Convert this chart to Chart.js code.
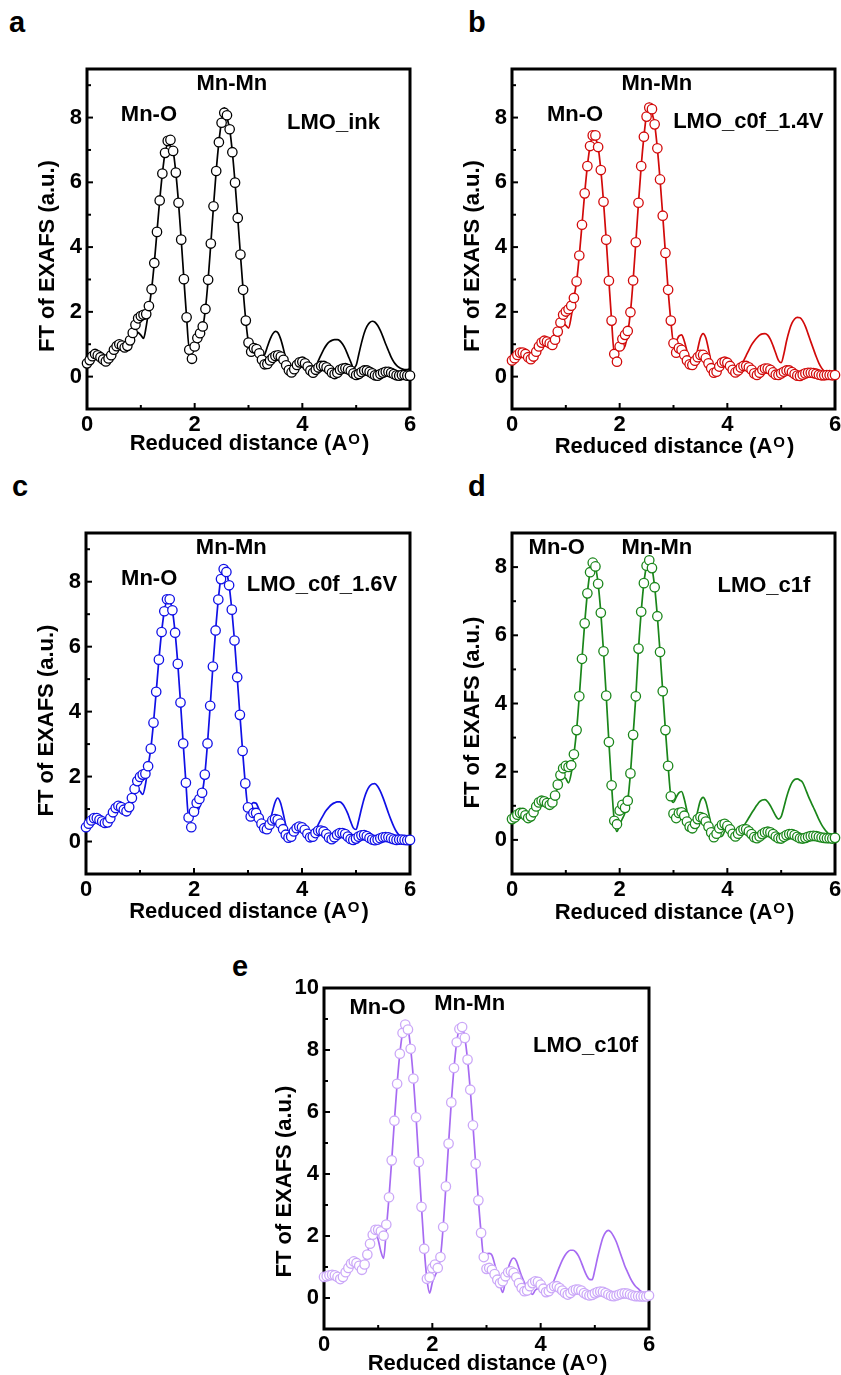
<!DOCTYPE html>
<html>
<head>
<meta charset="utf-8">
<title>FT of EXAFS panels</title>
<script src="https://cdn.jsdelivr.net/npm/chart.js@4.4.1/dist/chart.umd.min.js"></script>
<style>
  html, body { margin: 0; padding: 0; background: #fff; }
  body { position: relative; width: 841px; height: 1375px; overflow: hidden;
         font-family: "Liberation Sans", Arial, sans-serif; }
  canvas { position: absolute; }
  .tag { position: absolute; font-weight: bold; font-size: 29px; line-height: 29px; color: #000; }
</style>
</head>
<body>
<div class="tag" style="left:9px;top:8px">a</div>
<div class="tag" style="left:468px;top:8px">b</div>
<div class="tag" style="left:12px;top:472px">c</div>
<div class="tag" style="left:468px;top:472px">d</div>
<div class="tag" style="left:232px;top:952px">e</div>

<script>
// reduced distance grid (Å)
const R = [0, 0.05, 0.1, 0.15, 0.2, 0.25, 0.3, 0.35, 0.4, 0.45,
  0.5, 0.55, 0.6, 0.65, 0.7, 0.75, 0.8, 0.85, 0.9, 0.95,
  1, 1.05, 1.1, 1.15, 1.2, 1.25, 1.3, 1.35, 1.4, 1.45,
  1.5, 1.55, 1.6, 1.65, 1.7, 1.75, 1.8, 1.85, 1.9, 1.95,
  2, 2.05, 2.1, 2.15, 2.2, 2.25, 2.3, 2.35, 2.4, 2.45,
  2.5, 2.55, 2.6, 2.65, 2.7, 2.75, 2.8, 2.85, 2.9, 2.95,
  3, 3.05, 3.1, 3.15, 3.2, 3.25, 3.3, 3.35, 3.4, 3.45,
  3.5, 3.55, 3.6, 3.65, 3.7, 3.75, 3.8, 3.85, 3.9, 3.95,
  4, 4.05, 4.1, 4.15, 4.2, 4.25, 4.3, 4.35, 4.4, 4.45,
  4.5, 4.55, 4.6, 4.65, 4.7, 4.75, 4.8, 4.85, 4.9, 4.95,
  5, 5.05, 5.1, 5.15, 5.2, 5.25, 5.3, 5.35, 5.4, 5.45,
  5.5, 5.55, 5.6, 5.65, 5.7, 5.75, 5.8, 5.85, 5.9, 5.95,
  6];

const _ = null;

// a: LMO_ink
const ptsA = [0.41, 0.51, 0.63, 0.70, 0.66, 0.60, 0.53, 0.47, 0.56, 0.66,
  0.83, 0.94, 1.00, 0.96, 0.90, 0.95, 1.12, 1.35, 1.60, 1.80,
  1.87, 1.91, 1.93, 2.18, 2.70, 3.51, 4.47, 5.44, 6.27, 6.91,
  7.28, 7.31, 6.97, 6.30, 5.37, 4.23, 3.01, 1.83, 0.83, 0.55,
  0.93, 1.19, 1.34, 1.55, 2.09, 2.99, 4.11, 5.26, 6.35, 7.24,
  7.84, 8.15, 8.07, 7.64, 6.93, 5.99, 4.90, 3.77, 2.68, 1.73,
  1.05, 0.77, 0.88, 0.85, 0.72, 0.52, 0.38, 0.39, 0.50, 0.58,
  0.64, 0.66, 0.62, 0.52, 0.35, 0.20, 0.13, 0.23, 0.36, 0.44,
  0.46, 0.41, 0.31, 0.19, 0.12, 0.21, 0.28, 0.33, 0.33, 0.29,
  0.21, 0.12, 0.08, 0.12, 0.21, 0.25, 0.26, 0.23, 0.18, 0.10,
  0.05, 0.08, 0.14, 0.19, 0.19, 0.15, 0.10, 0.04, 0.03, 0.08,
  0.12, 0.15, 0.15, 0.12, 0.08, 0.04, 0.03, 0.05, 0.05, 0.03,
  0.03];
const fitA = [_, _, _, _, _, _, _, _, _, _,
  _, _, 1.00, 0.98, 0.96, 1.00, 1.12, 1.27, 1.38, 1.36,
  1.28, 1.18, 1.55, 2.10, 2.70, 3.51, 4.47, 5.44, 6.27, 6.91,
  7.15, 7.12, 6.97, 6.30, 5.37, 4.23, 3.01, 1.83, 0.86, 0.90,
  0.98, 1.08, 1.18, 1.50, 2.09, 2.99, 4.11, 5.26, 6.35, 7.24,
  7.90, 8.30, 8.00, 7.64, 6.93, 5.99, 4.90, 3.77, 2.68, 1.73,
  1.08, 1.00, 0.95, 0.88, 0.75, 0.62, 0.68, 0.92, 1.15, 1.32,
  1.40, 1.35, 1.15, 0.85, 0.50, 0.22, 0.15, 0.22, 0.30, 0.32,
  0.30, 0.25, 0.20, 0.18, 0.22, 0.32, 0.50, 0.68, 0.85, 0.98,
  1.07, 1.12, 1.14, 1.14, 1.10, 1.00, 0.85, 0.65, 0.45, 0.27,
  0.35, 0.70, 1.05, 1.35, 1.55, 1.67, 1.71, 1.68, 1.58, 1.42,
  1.22, 1.00, 0.80, 0.60, 0.45, 0.35, 0.28, 0.24, 0.22, 0.22,
  0.25];

// b: LMO_c0f_1.4V
const ptsB = [0.50, 0.57, 0.67, 0.74, 0.74, 0.70, 0.60, 0.54, 0.62, 0.77,
  0.93, 1.05, 1.11, 1.08, 1.03, 0.98, 1.14, 1.39, 1.67, 1.91,
  2.01, 2.08, 2.19, 2.43, 2.94, 3.74, 4.69, 5.66, 6.50, 7.12,
  7.45, 7.45, 7.09, 6.38, 5.40, 4.23, 2.96, 1.73, 0.70, 0.46,
  0.93, 1.16, 1.29, 1.41, 1.99, 2.97, 4.15, 5.37, 6.50, 7.41,
  8.03, 8.31, 8.26, 7.79, 7.05, 6.09, 4.97, 3.82, 2.68, 1.73,
  1.03, 0.74, 0.88, 0.83, 0.67, 0.50, 0.38, 0.36, 0.49, 0.60,
  0.67, 0.67, 0.57, 0.41, 0.26, 0.12, 0.15, 0.31, 0.43, 0.46,
  0.43, 0.33, 0.21, 0.13, 0.19, 0.28, 0.33, 0.33, 0.29, 0.21,
  0.10, 0.05, 0.12, 0.21, 0.25, 0.25, 0.21, 0.13, 0.06, 0.05,
  0.10, 0.15, 0.19, 0.19, 0.14, 0.08, 0.03, 0.02, 0.06, 0.10,
  0.12, 0.12, 0.11, 0.09, 0.06, 0.04, 0.04, 0.05, 0.05, 0.04,
  0.05];
const fitB = [_, _, _, _, _, _, _, _, _, _,
  _, _, 1.11, 1.10, 1.10, 1.15, 1.25, 1.42, 1.58, 1.65,
  1.58, 1.50, 1.85, 2.43, 2.94, 3.74, 4.69, 5.66, 6.50, 7.12,
  7.40, 7.35, 7.09, 6.38, 5.40, 4.23, 2.96, 1.73, 0.72, 0.75,
  0.82, 0.85, 0.95, 1.35, 1.99, 2.97, 4.15, 5.37, 6.50, 7.41,
  8.10, 8.45, 8.15, 7.79, 7.05, 6.09, 4.97, 3.82, 2.68, 1.73,
  1.05, 1.10, 1.25, 1.29, 1.10, 0.80, 0.55, 0.42, 0.50, 0.85,
  1.20, 1.33, 1.20, 0.85, 0.45, 0.20, 0.15, 0.25, 0.35, 0.38,
  0.35, 0.28, 0.20, 0.15, 0.20, 0.32, 0.48, 0.65, 0.82, 0.98,
  1.10, 1.20, 1.28, 1.32, 1.33, 1.28, 1.15, 0.95, 0.72, 0.50,
  0.43, 0.70, 1.10, 1.42, 1.65, 1.78, 1.83, 1.82, 1.72, 1.55,
  1.32, 1.08, 0.85, 0.62, 0.42, 0.27, 0.17, 0.12, 0.10, 0.09,
  0.08];

// c: LMO_c0f_1.6V
const ptsC = [0.44, 0.55, 0.65, 0.72, 0.72, 0.67, 0.62, 0.57, 0.59, 0.72,
  0.90, 1.03, 1.10, 1.06, 0.98, 0.93, 1.06, 1.34, 1.62, 1.86,
  1.99, 2.06, 2.09, 2.32, 2.86, 3.66, 4.61, 5.60, 6.45, 7.09,
  7.46, 7.46, 7.12, 6.43, 5.47, 4.28, 3.02, 1.81, 0.74, 0.44,
  0.92, 1.19, 1.31, 1.50, 2.06, 3.02, 4.18, 5.39, 6.50, 7.45,
  8.08, 8.39, 8.30, 7.89, 7.14, 6.19, 5.06, 3.90, 2.79, 1.79,
  1.05, 0.77, 0.88, 0.88, 0.72, 0.55, 0.41, 0.38, 0.52, 0.65,
  0.69, 0.67, 0.55, 0.38, 0.21, 0.12, 0.15, 0.31, 0.41, 0.46,
  0.44, 0.36, 0.24, 0.13, 0.15, 0.26, 0.33, 0.34, 0.31, 0.23,
  0.12, 0.07, 0.13, 0.21, 0.26, 0.26, 0.23, 0.15, 0.08, 0.05,
  0.09, 0.15, 0.19, 0.20, 0.17, 0.11, 0.06, 0.04, 0.06, 0.10,
  0.13, 0.14, 0.13, 0.10, 0.07, 0.05, 0.06, 0.06, 0.05, 0.04,
  0.05];
const fitC = [_, _, _, _, _, _, _, _, _, _,
  _, _, 1.10, 1.08, 1.05, 1.10, 1.20, 1.35, 1.50, 1.60,
  1.55, 1.45, 1.75, 2.32, 2.86, 3.66, 4.61, 5.60, 6.45, 7.09,
  7.40, 7.38, 7.12, 6.43, 5.47, 4.28, 3.02, 1.81, 0.75, 0.72,
  0.80, 0.90, 1.05, 1.45, 2.06, 3.02, 4.18, 5.39, 6.50, 7.45,
  8.15, 8.45, 8.30, 7.89, 7.14, 6.19, 5.06, 3.90, 2.79, 1.79,
  1.08, 1.12, 1.20, 1.18, 1.00, 0.75, 0.52, 0.42, 0.55, 0.90,
  1.20, 1.34, 1.20, 0.88, 0.50, 0.20, 0.10, 0.20, 0.30, 0.36,
  0.35, 0.28, 0.20, 0.15, 0.22, 0.35, 0.52, 0.68, 0.83, 0.96,
  1.06, 1.14, 1.19, 1.22, 1.22, 1.16, 1.03, 0.85, 0.62, 0.42,
  0.37, 0.65, 1.00, 1.32, 1.55, 1.70, 1.77, 1.78, 1.70, 1.55,
  1.35, 1.12, 0.88, 0.66, 0.46, 0.30, 0.19, 0.12, 0.08, 0.06,
  0.05];

// d: LMO_c1f
const ptsD = [0.61, 0.66, 0.74, 0.79, 0.79, 0.72, 0.64, 0.69, 0.81, 0.98,
  1.10, 1.15, 1.13, 1.08, 1.03, 1.10, 1.30, 1.62, 1.90, 2.10,
  2.17, 2.14, 2.19, 2.51, 3.22, 4.21, 5.31, 6.35, 7.23, 7.85,
  8.13, 8.02, 7.51, 6.66, 5.53, 4.23, 2.87, 1.60, 0.56, 0.46,
  0.86, 1.03, 0.94, 1.15, 1.95, 3.08, 4.21, 5.61, 6.69, 7.53,
  8.04, 8.20, 7.97, 7.41, 6.56, 5.51, 4.36, 3.22, 2.17, 1.28,
  0.77, 0.64, 0.79, 0.81, 0.71, 0.54, 0.39, 0.34, 0.47, 0.61,
  0.67, 0.64, 0.54, 0.39, 0.22, 0.08, 0.18, 0.34, 0.44, 0.47,
  0.41, 0.31, 0.18, 0.10, 0.18, 0.27, 0.31, 0.31, 0.25, 0.17,
  0.08, 0.05, 0.10, 0.17, 0.22, 0.24, 0.22, 0.17, 0.10, 0.05,
  0.04, 0.09, 0.14, 0.17, 0.17, 0.14, 0.09, 0.05, 0.04, 0.06,
  0.09, 0.11, 0.12, 0.11, 0.09, 0.07, 0.06, 0.05, 0.05, 0.04,
  0.06];
const fitD = [_, _, _, _, _, _, _, _, _, _,
  _, _, 1.13, 1.10, 1.10, 1.15, 1.30, 1.55, 1.75, 1.85,
  1.80, 1.67, 1.95, 2.51, 3.22, 4.21, 5.31, 6.35, 7.23, 7.85,
  8.10, 8.00, 7.51, 6.66, 5.53, 4.23, 2.87, 1.60, 0.56, 0.25,
  0.45, 0.62, 0.80, 1.15, 1.95, 3.08, 4.21, 5.61, 6.69, 7.53,
  8.04, 8.20, 7.97, 7.41, 6.56, 5.51, 4.36, 3.22, 2.17, 1.28,
  1.10, 1.25, 1.38, 1.42, 1.20, 0.85, 0.52, 0.35, 0.50, 0.85,
  1.15, 1.25, 1.12, 0.80, 0.45, 0.20, 0.12, 0.10, 0.10, 0.25,
  0.32, 0.28, 0.20, 0.18, 0.22, 0.30, 0.40, 0.52, 0.65, 0.78,
  0.90, 1.02, 1.12, 1.17, 1.18, 1.12, 1.00, 0.85, 0.70, 0.61,
  0.68, 0.95, 1.25, 1.50, 1.68, 1.77, 1.79, 1.75, 1.68, 1.50,
  1.30, 1.12, 0.95, 0.78, 0.60, 0.45, 0.33, 0.23, 0.16, 0.11,
  0.07];

// e: LMO_c10f
const ptsE = [0.68, 0.70, 0.73, 0.75, 0.73, 0.68, 0.61, 0.68, 0.83, 0.97,
  1.11, 1.18, 1.13, 1.04, 0.91, 1.08, 1.40, 1.75, 2.04, 2.20,
  2.20, 2.15, 2.01, 2.37, 3.25, 4.44, 5.72, 6.91, 7.88, 8.55,
  8.82, 8.66, 8.04, 7.08, 5.83, 4.39, 2.94, 1.59, 0.62, 0.67,
  0.97, 1.08, 0.97, 1.32, 2.29, 3.60, 4.98, 6.31, 7.42, 8.25,
  8.68, 8.74, 8.39, 7.69, 6.72, 5.57, 4.33, 3.15, 2.10, 1.32,
  0.94, 0.97, 0.91, 0.77, 0.59, 0.48, 0.54, 0.70, 0.83, 0.86,
  0.81, 0.67, 0.48, 0.32, 0.22, 0.24, 0.38, 0.48, 0.54, 0.52,
  0.43, 0.30, 0.19, 0.22, 0.32, 0.38, 0.38, 0.32, 0.24, 0.16,
  0.11, 0.16, 0.24, 0.27, 0.27, 0.24, 0.16, 0.11, 0.08, 0.10,
  0.15, 0.19, 0.21, 0.20, 0.16, 0.11, 0.07, 0.06, 0.08, 0.11,
  0.14, 0.15, 0.14, 0.11, 0.08, 0.06, 0.06, 0.05, 0.05, 0.05,
  0.08];
const fitE = [_, _, _, _, _, _, _, _, _, _,
  _, _, 1.13, 1.05, 1.00, 1.15, 1.45, 1.80, 2.02, 2.10,
  1.88, 1.50, 1.28, 2.20, 3.25, 4.44, 5.72, 6.91, 7.88, 8.55,
  8.80, 8.70, 8.04, 7.08, 5.83, 4.39, 2.94, 1.59, 0.62, 0.16,
  0.50, 0.72, 0.92, 1.32, 2.29, 3.60, 4.98, 6.31, 7.42, 8.25,
  8.70, 8.78, 8.39, 7.69, 6.72, 5.57, 4.33, 3.15, 2.10, 1.32,
  1.42, 1.44, 1.38, 1.10, 0.75, 0.42, 0.18, 0.55, 0.95, 1.20,
  1.29, 1.20, 0.95, 0.70, 0.50, 0.30, 0.18, 0.12, 0.25, 0.30,
  0.28, 0.22, 0.20, 0.25, 0.38, 0.58, 0.80, 1.02, 1.22, 1.38,
  1.49, 1.54, 1.54, 1.48, 1.35, 1.15, 0.92, 0.72, 0.60, 0.59,
  0.90, 1.30, 1.65, 1.95, 2.12, 2.18, 2.12, 1.98, 1.80, 1.55,
  1.30, 1.05, 0.85, 0.66, 0.50, 0.38, 0.30, 0.22, 0.15, 0.10,
  0.08];

// axis ticks
const xTicks = [0, 2, 4, 6];
const xMinor = [1, 3, 5];
const yTicks8 = [0, 2, 4, 6, 8];
const yTicks10 = [0, 2, 4, 6, 8, 10];
const yMinor9 = [1, 3, 5, 7, 9];
const yMinor7 = [1, 3, 5, 7];

// peak labels: text, R, FT
const notesA = [['Mn-Mn', 2.69, 9.03], ['Mn-O', 1.15, 8.07], ['LMO_ink', 4.58, 7.82]];
const notesB = [['Mn-Mn', 2.69, 9.03], ['Mn-O', 1.17, 8.08], ['LMO_c0f_1.4V', 4.39, 7.86]];
const notesC = [['Mn-Mn', 2.69, 9.03], ['Mn-O', 1.17, 8.10], ['LMO_c0f_1.6V', 4.37, 7.89]];
const notesD = [['Mn-O', 0.83, 8.55], ['Mn-Mn', 2.69, 8.55], ['LMO_c1f', 4.68, 7.45]];
const notesE = [['Mn-O', 0.99, 9.35], ['Mn-Mn', 2.69, 9.48], ['LMO_c10f', 4.83, 8.14]];

const FONT = '"Liberation Sans", Arial, sans-serif';
Chart.defaults.font.family = FONT;

// margins of each canvas around its plot box
const ML = 86, MT = 60, MR = 12, MB = 62;

const panels = [
  { box: [87, 69, 323, 340], yMax: 9.5, yTicks: yTicks8, yMinor: yMinor9, pts: ptsA, fit: fitA,
    line: '#000000', mark: '#000000', notes: notesA, yTitleDy: 17, xTitleDy: 41 },
  { box: [512, 69, 323, 340], yMax: 9.5, yTicks: yTicks8, yMinor: yMinor9, pts: ptsB, fit: fitB,
    line: '#d20a0a', mark: '#d20a0a', notes: notesB, yTitleDy: 17, xTitleDy: 44 },
  { box: [86, 533, 324, 341], yMax: 9.5, yTicks: yTicks8, yMinor: yMinor9, pts: ptsC, fit: fitC,
    line: '#1010e6', mark: '#1010e6', notes: notesC, yTitleDy: 17, xTitleDy: 44 },
  { box: [512, 533, 323, 341], yMax: 9, yTicks: yTicks8, yMinor: yMinor7, pts: ptsD, fit: fitD,
    line: '#1a861a', mark: '#1a861a', notes: notesD, yTitleDy: 9, xTitleDy: 45 },
  { box: [324, 988, 325, 341], yMax: 10, yTicks: yTicks10, yMinor: yMinor9, pts: ptsE, fit: fitE,
    line: '#a76bf2', mark: '#cba8f8', notes: notesE, yTitleDy: 23, xTitleDy: 41 }
];

function decor(p) {
  return {
    id: 'decor',
    beforeDatasetsDraw(chart) {
      const { ctx, chartArea: a, scales: { x, y } } = chart;
      ctx.save();
      ctx.strokeStyle = '#000';
      ctx.lineWidth = 2;
      const mark = (x0, y0, x1, y1) => {
        ctx.beginPath(); ctx.moveTo(x0, y0); ctx.lineTo(x1, y1); ctx.stroke();
      };
      xTicks.forEach(v => { const px = x.getPixelForValue(v); mark(px, a.bottom, px, a.bottom - 6); });
      xMinor.forEach(v => { const px = x.getPixelForValue(v); mark(px, a.bottom, px, a.bottom - 4); });
      p.yTicks.forEach(v => { const py = y.getPixelForValue(v); mark(a.left, py, a.left + 6, py); });
      p.yMinor.forEach(v => { const py = y.getPixelForValue(v); mark(a.left, py, a.left + 4, py); });
      ctx.lineWidth = 3;
      ctx.strokeRect(a.left, a.top, a.right - a.left, a.bottom - a.top);
      ctx.restore();
    },
    afterDraw(chart) {
      const { ctx, chartArea: a, scales: { x, y } } = chart;
      ctx.save();
      ctx.fillStyle = '#000';

      // peak / sample labels
      ctx.font = `bold 22px ${FONT}`;
      ctx.textAlign = 'center';
      ctx.textBaseline = 'middle';
      p.notes.forEach(([t, nx, ny]) => ctx.fillText(t, x.getPixelForValue(nx), y.getPixelForValue(ny)));

      // y title
      ctx.save();
      ctx.translate(a.left - 39, (a.top + a.bottom) / 2 + p.yTitleDy);
      ctx.rotate(-Math.PI / 2);
      ctx.fillText('FT of EXAFS (a.u.)', 0, 0);
      ctx.restore();

      // x title with superscript
      const main = 'Reduced distance (A';
      ctx.textAlign = 'left';
      ctx.textBaseline = 'alphabetic';
      ctx.font = `bold 22px ${FONT}`;
      const w1 = ctx.measureText(main).width;
      const w3 = ctx.measureText(')').width;
      ctx.font = `bold 15px ${FONT}`;
      const w2 = ctx.measureText('O').width + 3;
      const base = a.bottom + p.xTitleDy;
      let sx = (a.left + a.right) / 2 + 1 - (w1 + w2 + w3) / 2;
      ctx.font = `bold 22px ${FONT}`;
      ctx.fillText(main, sx, base);
      sx += w1;
      ctx.font = `bold 15px ${FONT}`;
      ctx.fillText('O', sx + 1, base - 6);
      sx += w2;
      ctx.font = `bold 22px ${FONT}`;
      ctx.fillText(')', sx, base);
      ctx.restore();
    }
  };
}

function buildPanel(p) {
  const [bx, by, bw, bh] = p.box;
  const canvas = document.createElement('canvas');
  canvas.width = bw + ML + MR;
  canvas.height = bh + MT + MB;
  canvas.style.left = (bx - ML) + 'px';
  canvas.style.top = (by - MT) + 'px';
  document.body.appendChild(canvas);

  const tickFont = { size: 22, weight: 'bold', family: FONT };

  return new Chart(canvas.getContext('2d'), {
    type: 'line',
    data: {
      datasets: [
        {
          label: 'data',
          data: R.map((r, i) => ({ x: r, y: p.pts[i] })),
          showLine: false,
          pointStyle: 'circle',
          pointRadius: 4.7,
          pointBorderWidth: 1.3,
          pointBackgroundColor: '#ffffff',
          pointBorderColor: p.mark,
          clip: false
        },
        {
          label: 'fit',
          data: R.map((r, i) => ({ x: r, y: p.fit[i] })),
          borderColor: p.line,
          borderWidth: 1.7,
          pointRadius: 0,
          cubicInterpolationMode: 'monotone',
          spanGaps: false
        }
      ]
    },
    options: {
      responsive: false,
      animation: false,
      devicePixelRatio: 1,
      events: [],
      layout: { padding: { left: 0, top: MT, right: MR, bottom: 0 } },
      plugins: { legend: { display: false }, tooltip: { enabled: false } },
      scales: {
        x: {
          type: 'linear', min: 0, max: 6,
          afterBuildTicks: s => { s.ticks = xTicks.map(v => ({ value: v })); },
          afterFit: s => { s.height = MB; },
          grid: { display: false, drawTicks: false },
          border: { display: false },
          ticks: { font: tickFont, color: '#000', padding: 3, maxRotation: 0, autoSkip: false }
        },
        y: {
          type: 'linear', min: -1, max: p.yMax,
          afterBuildTicks: s => { s.ticks = p.yTicks.map(v => ({ value: v })); },
          afterFit: s => { s.width = ML; },
          grid: { display: false, drawTicks: false },
          border: { display: false },
          ticks: { font: tickFont, color: '#000', padding: 5, autoSkip: false }
        }
      }
    },
    plugins: [decor(p)]
  });
}

panels.forEach(buildPanel);
</script>
</body>
</html>
